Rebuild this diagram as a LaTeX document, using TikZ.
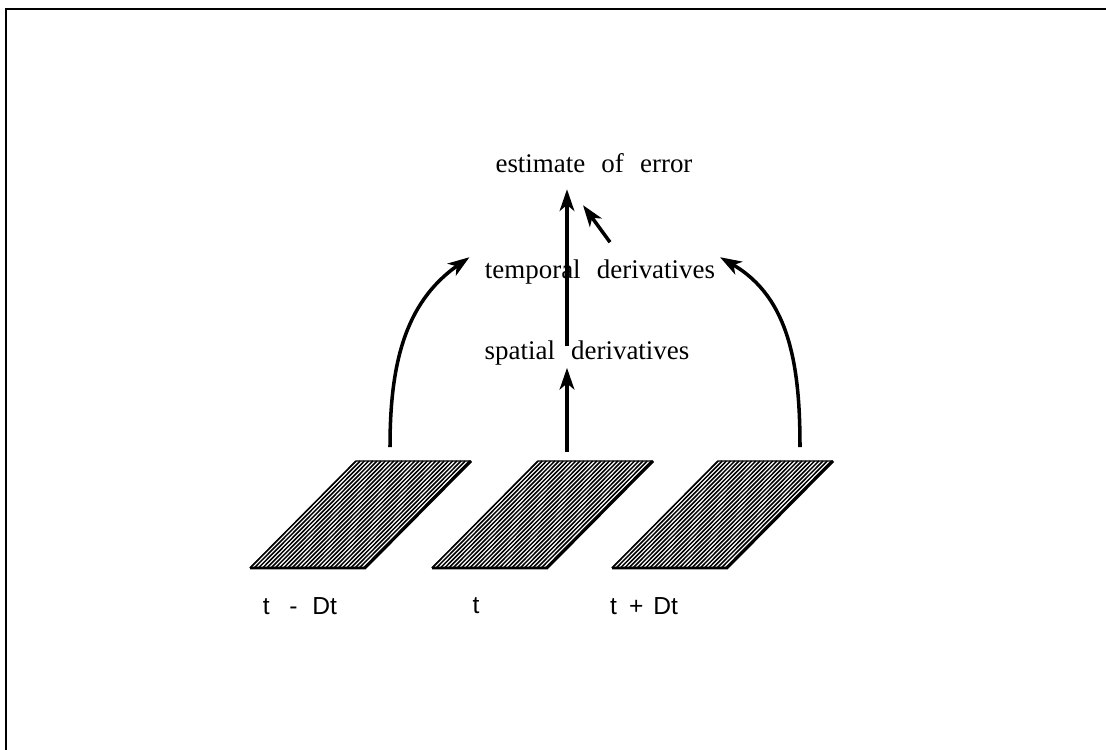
\documentclass[tikz,border=0pt]{standalone}
\usepackage{fontspec}
\setmainfont{Liberation Serif}[WordSpace=2.4]
\setsansfont{Liberation Sans}
\usetikzlibrary{arrows.meta,calc}
\tikzset{
  lbl/.style={font=\fontsize{23}{25}\selectfont,inner sep=2pt},
  tlbl/.style={font=\sffamily\fontsize{21}{23}\selectfont,inner sep=0pt},
  arr/.style={line width=3pt,-{Stealth[length=6.5mm,width=4.4mm,inset=1.8mm]}},
  rim/.style={line width=0.9pt},
  shade/.style={line width=2.4pt},
  hatch/.style={line width=1.3pt}
}

\begin{document}
\begin{tikzpicture}[x=0.03cm,y=-0.03cm]
\useasboundingbox (0,0) rectangle (1106,750);
\draw[line width=1.6pt] (6,750) -- (6,9) -- (1106,9);

\node[lbl] (est) at (594,163) {estimate of error};
\node[lbl] (temp) at (600,272) {temporal derivatives};
\node[lbl] (spat) at (587,353) {spatial derivatives};

% the three frames
\foreach \n/\x in {pl/250,pc/432,pr/612}{
  \foreach \i in {0,4.2,...,114} \draw[hatch] (\x+\i,568) -- ++(106,-107);
  \draw[rim] (\x,568) -- ++(106,-107) -- ++(115,0);
  \draw[shade] (\x,568) -- ++(115,0) -- ++(106,-107);
}
\node[tlbl] (lm) at (300,606) {t\hspace{0.8em}-\hspace{0.6em}Dt};
\node[tlbl] (lc) at (476,606) {t};
\node[tlbl] (lp) at (644,606) {t\hspace{0.5em}+\hspace{0.4em}Dt};

\coordinate (pl-top) at (390,447);
\coordinate (pc-top) at (567,452);
\coordinate (pr-top) at (800,447);

\draw[arr] (pc-top) -- (pc-top |- spat.south);
\draw[arr,shorten <=-7pt,shorten >=12pt] (pc-top |- spat.north) -- (pc-top |- est.south);
\draw[arr] ($(temp.north)+(10,-15)$) -- ($(est.south)+(-11,30)$);
\draw[arr] (pl-top) to[out=90,in=215] ([xshift=-11pt]temp.north west);
\draw[arr] (pr-top) to[out=90,in=-30] ([xshift=2pt]temp.north east);
\end{tikzpicture}
\end{document}
